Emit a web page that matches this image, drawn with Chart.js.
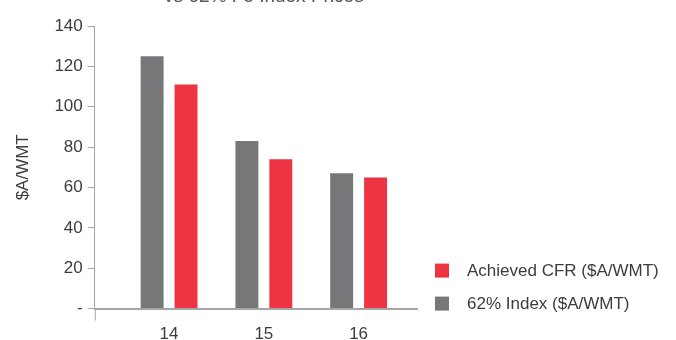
<!DOCTYPE html>
<html>
<head>
<meta charset="utf-8">
<script src="https://cdn.jsdelivr.net/npm/chart.js@4/dist/chart.umd.min.js"></script>
<style>
  html, body { margin: 0; padding: 0; background: #fff; }
  #wrap { width: 676px; height: 340px; overflow: hidden; position: relative; }
  #chart { position: absolute; left: 0; top: -20px; }
</style>
</head>
<body>
<div id="wrap"><canvas id="chart" width="676" height="381"></canvas></div>
<script>
const years = [14, 15, 16];
const indexPrice = [125, 83, 67];
const achievedCfr = [111, 74, 65];
const yTicks = [0, 20, 40, 60, 80, 100, 120, 140];
const chartTitle = 'vs 62% Fe Index Prices';

const axisGrey = '#a6a6a6';
const textGrey = '#3c3c3c';
const font = { family: "'Liberation Sans', Arial, sans-serif", size: 17 };

// short stub of the y axis hanging below the x axis
const axisStub = {
  id: 'axisStub',
  afterDraw(chart) {
    const { ctx, chartArea } = chart;
    ctx.save();
    ctx.strokeStyle = axisGrey;
    ctx.lineWidth = 1;
    ctx.beginPath();
    ctx.moveTo(chartArea.left + 0.5, chartArea.bottom);
    ctx.lineTo(chartArea.left + 0.5, chartArea.bottom + 12);
    ctx.stroke();
    ctx.restore();
  }
};

// title sits a little right of the plot centre, mostly above the visible area
const topTitle = {
  id: 'topTitle',
  afterDraw(chart) {
    const { ctx, chartArea } = chart;
    ctx.save();
    ctx.font = `19px ${font.family}`;
    ctx.fillStyle = '#555';
    ctx.textAlign = 'center';
    ctx.textBaseline = 'alphabetic';
    ctx.fillText(chartTitle, (chartArea.left + chartArea.right) / 2 + 8, 22);
    ctx.restore();
  }
};

// legend drawn by hand to the right of the plot, last dataset on top
const sideLegend = {
  id: 'sideLegend',
  afterDraw(chart) {
    const { ctx, chartArea } = chart;
    const sets = chart.data.datasets.slice().reverse();
    const x = chartArea.right + 18;
    const rowGap = 33;
    let y = chartArea.bottom - 5 - rowGap * (sets.length - 1);
    ctx.save();
    ctx.font = `${font.size}px ${font.family}`;
    ctx.textBaseline = 'middle';
    sets.forEach(ds => {
      ctx.fillStyle = ds.backgroundColor;
      ctx.fillRect(x, y - 7, 14, 14);
      ctx.fillStyle = textGrey;
      ctx.fillText(ds.label, x + 32, y + 1);
      y += rowGap;
    });
    ctx.restore();
  }
};

new Chart(document.getElementById('chart'), {
  type: 'bar',
  data: {
    datasets: [
      {
        label: '62% Index ($A/WMT)',
        data: years.map((y, i) => ({ x: y, y: indexPrice[i] })),
        backgroundColor: '#77777a'
      },
      {
        label: 'Achieved CFR ($A/WMT)',
        data: years.map((y, i) => ({ x: y, y: achievedCfr[i] })),
        backgroundColor: '#ee3342'
      }
    ]
  },
  options: {
    responsive: false,
    animation: false,
    categoryPercentage: 0.716,
    barPercentage: 0.676,
    layout: { padding: { top: 46, left: 13, right: 259, bottom: 0 } },
    plugins: {
      title: { display: false },
      legend: { display: false },
      tooltip: { enabled: false }
    },
    scales: {
      x: {
        type: 'linear',
        offset: false,
        min: 13.216,
        max: 16.616,
        afterBuildTicks: scale => { scale.ticks = years.map(v => ({ value: v })); },
        grid: { display: false, drawTicks: false },
        border: { display: true, color: axisGrey, width: 2 },
        ticks: {
          color: textGrey,
          font: font,
          padding: 16,
          callback: v => String(v)
        }
      },
      y: {
        min: 0,
        max: 140,
        afterBuildTicks: scale => { scale.ticks = yTicks.map(v => ({ value: v })); },
        grid: { drawOnChartArea: false, color: axisGrey, tickLength: 7 },
        border: { display: true, color: axisGrey, width: 1 },
        title: {
          display: true,
          text: '$A/WMT',
          color: textGrey,
          font: font,
          padding: { top: 0, bottom: 16 }
        },
        ticks: {
          color: textGrey,
          font: font,
          padding: 5,
          callback: v => (v === 0 ? '-' : v)
        }
      }
    }
  },
  plugins: [axisStub, topTitle, sideLegend]
});
</script>
</body>
</html>
